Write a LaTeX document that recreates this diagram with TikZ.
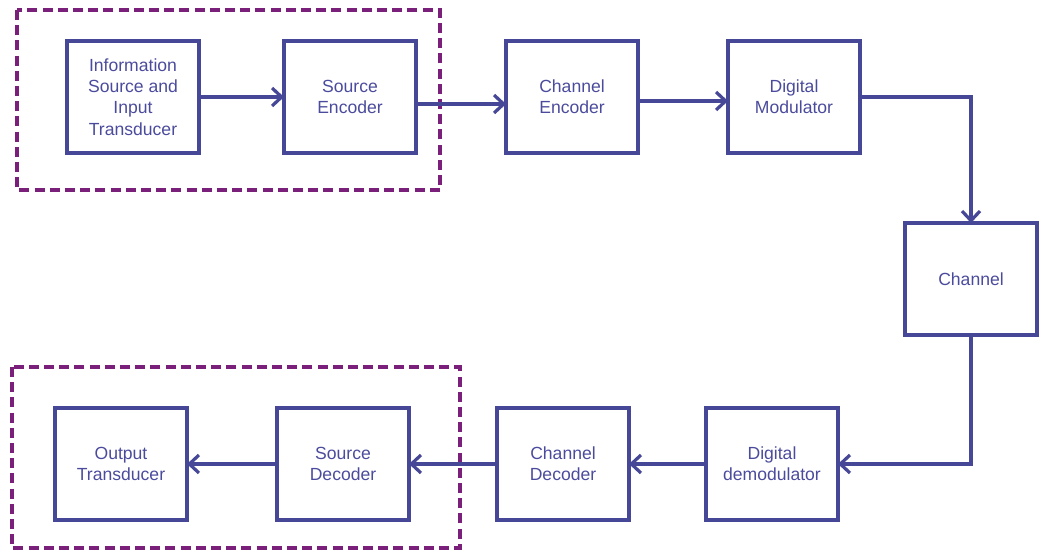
\documentclass[tikz,border=0pt]{standalone}
\usepackage{fontspec}
\setmainfont{Liberation Sans}
\usepackage{tikz}
\usetikzlibrary{positioning,arrows.meta}
\definecolor{blockblue}{HTML}{474797}
\definecolor{textblue}{HTML}{4B4B9D}
\definecolor{groupviolet}{HTML}{7A1F7A}

\begin{document}
\begin{tikzpicture}[
  block/.style={draw=blockblue, line width=2.3pt, minimum width=3.3cm,
                minimum height=2.8cm, outer sep=0pt, align=center, text=textblue,
                font=\fontsize{12.5}{15.2}\selectfont},
  flow/.style={draw=blockblue, line width=2.4pt,
               -{Straight Barb[length=0.24cm, width=0.45cm, line width=2.3pt]}},
  group/.style={draw=groupviolet, line width=2.2pt, dash pattern=on 0.25cm off 0.13cm},
  >=Stealth
]
  \useasboundingbox (0,0) rectangle (25.975,-13.75);

  \node[block] (info) at (3.325,-2.425) {Information\\Source and\\Input\\Transducer};
  \node[block, right=2.125cm of info]               (srcenc) {Source\\Encoder};
  \node[block, right=2.25cm of srcenc]              (chenc)  {Channel\\Encoder};
  \node[block, right=2.25cm of chenc]               (digmod) {Digital\\Modulator};
  \node[block, below right=1.75cm and 1.125cm of digmod] (channel) {Channel};
  \node[block, below left=1.825cm and 1.675cm of channel] (demod) {Digital\\demodulator};
  \node[block, left=1.925cm of demod]               (chdec)  {Channel\\Decoder};
  \node[block, left=2.2cm of chdec]                 (srcdec) {Source\\Decoder};
  \node[block, left=2.25cm of srcdec]               (outtr)  {Output\\Transducer};

  \draw[group] (0.425,-0.25) rectangle (11,-4.75);
  \draw[group] (0.3,-9.175) rectangle (11.5,-13.7);

  \draw[flow] (info) -- (srcenc);
  \draw[flow] ([yshift=-0.175cm]srcenc.east) -- ([yshift=-0.175cm]srcenc.east -| chenc.west);
  \draw[flow] ([yshift=-0.1cm]chenc.east) -- ([yshift=-0.1cm]chenc.east -| digmod.west);
  \draw[flow] (digmod.east) -| (channel.north);
  \draw[flow] (channel.south) |- (demod.east);
  \draw[flow] (demod.west) -- (demod.west -| chdec.east);
  \draw[flow] (chdec.west) -- (chdec.west -| srcdec.east);
  \draw[flow] (srcdec.west) -- (outtr.east);
\end{tikzpicture}
\end{document}
